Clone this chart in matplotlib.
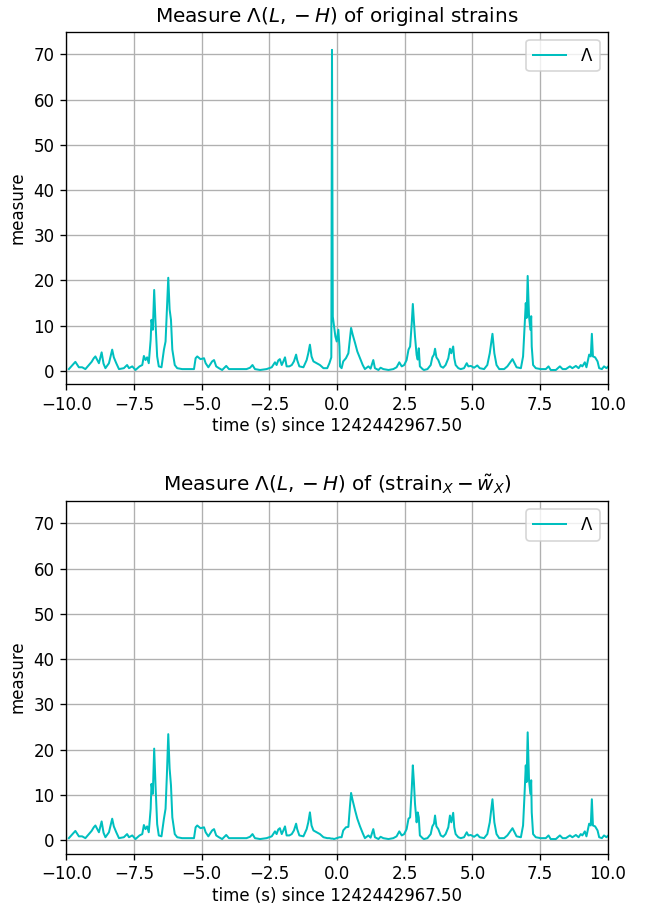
import numpy as np
import matplotlib
matplotlib.use("Agg")
import matplotlib.pyplot as plt

# time axis (s relative to the event GPS time)
t0 = "1242442967.50"
t = [-9.90, -9.66, -9.53, -9.41, -9.29, -9.16, -9.06, -8.98, -8.92, -8.85,
     -8.79, -8.69, -8.62, -8.55, -8.42, -8.30, -8.24, -8.15, -8.05, -7.87,
     -7.75, -7.68, -7.56, -7.44, -7.29, -7.19, -7.13, -7.07, -7.01, -6.95,
     -6.88, -6.85, -6.80, -6.75, -6.70, -6.64, -6.58, -6.48, -6.39, -6.33,
     -6.28, -6.23, -6.18, -6.13, -6.08, -5.99, -5.90, -5.72, -5.47, -5.28,
     -5.22, -5.16, -5.04, -4.91, -4.85, -4.75, -4.61, -4.54, -4.46, -4.36,
     -4.24, -4.09, -3.99, -3.74, -3.58, -3.34, -3.21, -3.12, -3.03, -2.84,
     -2.60, -2.41, -2.29, -2.23, -2.17, -2.11, -2.04, -1.98, -1.92, -1.86,
     -1.76, -1.67, -1.59, -1.51, -1.47, -1.39, -1.24, -1.12, -1.06, -1.00,
     -0.94, -0.87, -0.75, -0.63, -0.50, -0.36, -0.28, -0.21, -0.185, -0.155,
     -0.11, -0.06, -0.01, 0.05, 0.09, 0.11, 0.17, 0.23, 0.33, 0.42,
     0.48, 0.52, 0.58, 0.67, 0.75, 0.85, 0.95, 1.03, 1.16, 1.24,
     1.34, 1.40, 1.53, 1.61, 1.71, 1.90, 2.08, 2.20, 2.30, 2.39,
     2.48, 2.57, 2.64, 2.70, 2.76, 2.80, 2.84, 2.88, 2.94, 2.98,
     3.02, 3.06, 3.16, 3.21, 3.34, 3.46, 3.52, 3.58, 3.62, 3.67,
     3.74, 3.83, 3.92, 4.01, 4.11, 4.17, 4.22, 4.29, 4.33, 4.38,
     4.48, 4.57, 4.69, 4.79, 4.85, 4.94, 5.06, 5.18, 5.27, 5.43,
     5.55, 5.64, 5.74, 5.81, 5.89, 5.99, 6.17, 6.29, 6.42, 6.48,
     6.54, 6.63, 6.79, 6.87, 6.92, 6.97, 7.00, 7.04, 7.09, 7.14,
     7.17, 7.19, 7.24, 7.34, 7.52, 7.71, 7.81, 7.89, 8.08, 8.23,
     8.33, 8.45, 8.60, 8.69, 8.82, 8.92, 9.00, 9.06, 9.15, 9.21,
     9.31, 9.37, 9.41, 9.45, 9.53, 9.62, 9.68, 9.78, 9.86, 9.95,
     10.0]

# Lambda(L, -H) of the original strains
lam_orig = [0.4, 2.0, 0.8, 0.8, 0.4, 1.3, 2.0, 2.8, 3.2, 2.4,
            1.7, 4.1, 1.6, 0.6, 1.7, 4.7, 3.0, 1.7, 0.4, 0.6,
            1.3, 0.6, 1.0, 0.2, 1.0, 1.3, 3.3, 2.4, 3.0, 1.7,
            6.9, 11.3, 9.1, 17.9, 10.6, 3.2, 1.0, 0.8, 4.7, 6.5,
            13.6, 20.6, 13.6, 11.3, 4.7, 1.3, 0.6, 0.4, 0.4, 0.4,
            2.8, 3.2, 2.6, 2.8, 1.7, 0.8, 2.1, 2.4, 1.0, 0.6,
            0.2, 1.1, 0.4, 0.4, 0.4, 0.4, 0.7, 1.3, 0.4, 0.2,
            0.4, 0.8, 1.9, 1.3, 2.3, 2.6, 1.3, 2.1, 3.0, 1.0,
            1.0, 1.3, 2.1, 3.6, 2.4, 1.0, 0.8, 2.4, 3.9, 5.8,
            3.2, 2.1, 1.7, 1.3, 0.6, 0.6, 1.7, 3.0, 71.0, 12.0,
            9.9, 7.6, 6.5, 9.1, 5.4, 1.0, 0.6, 2.1, 2.8, 3.9,
            7.3, 9.5, 8.0, 6.1, 4.3, 2.8, 1.3, 0.4, 1.0, 0.5,
            2.4, 0.6, 0.2, 0.7, 0.4, 0.2, 0.4, 0.8, 1.9, 1.0,
            1.3, 2.4, 4.7, 5.4, 10.6, 14.8, 11.0, 7.6, 3.5, 2.5,
            5.0, 1.0, 0.4, 0.2, 0.4, 1.3, 3.0, 3.6, 4.9, 3.0,
            2.4, 1.0, 0.7, 1.3, 2.8, 4.9, 3.9, 5.4, 2.8, 1.3,
            0.6, 0.4, 0.6, 1.7, 1.0, 1.1, 0.7, 1.2, 0.6, 0.4,
            1.3, 3.9, 8.2, 3.9, 1.3, 0.4, 0.4, 1.0, 2.1, 2.6,
            1.9, 0.8, 0.6, 3.2, 9.1, 15.0, 11.7, 21.0, 12.1, 9.1,
            12.1, 5.4, 1.3, 0.6, 0.4, 0.4, 1.0, 0.2, 0.2, 1.0,
            0.4, 0.4, 1.0, 0.6, 1.1, 0.6, 1.3, 1.0, 1.9, 0.8,
            3.6, 3.2, 8.2, 3.2, 3.0, 2.1, 0.6, 0.4, 1.0, 0.6,
            0.9]

# Lambda(L, -H) after subtracting the reconstructed waveform
lam_resid = [0.4, 2.0, 0.8, 0.8, 0.4, 1.3, 2.0, 2.8, 3.2, 2.4,
             1.7, 4.1, 1.6, 0.6, 1.7, 4.7, 3.0, 1.7, 0.4, 0.6,
             1.3, 0.6, 1.0, 0.2, 1.0, 1.3, 3.3, 2.4, 3.0, 1.7,
             6.9, 12.4, 10.2, 20.2, 12.0, 3.5, 1.0, 0.8, 4.7, 6.9,
             14.5, 23.4, 15.8, 12.1, 5.0, 1.3, 0.6, 0.4, 0.4, 0.4,
             2.8, 3.2, 2.6, 2.8, 1.7, 0.8, 2.1, 2.4, 1.0, 0.6,
             0.2, 1.1, 0.4, 0.4, 0.4, 0.4, 0.7, 1.3, 0.4, 0.2,
             0.4, 0.8, 1.9, 1.3, 2.3, 2.6, 1.3, 2.1, 3.0, 1.0,
             1.0, 1.3, 2.1, 3.6, 2.4, 1.0, 0.8, 2.4, 3.9, 6.1,
             3.2, 2.1, 1.7, 1.3, 0.6, 0.4, 0.4, 0.3, 0.3, 0.3,
             0.2, 0.3, 0.4, 0.5, 0.6, 0.6, 0.6, 2.1, 2.8, 2.9,
             7.6, 10.4, 8.7, 6.5, 4.7, 3.0, 1.5, 0.4, 1.0, 0.5,
             2.4, 0.6, 0.2, 0.7, 0.4, 0.2, 0.4, 0.8, 1.9, 1.0,
             1.3, 2.4, 4.7, 5.0, 11.3, 16.5, 12.8, 8.0, 3.9, 6.1,
             5.0, 1.0, 0.4, 0.2, 0.4, 1.3, 3.0, 3.6, 5.4, 3.0,
             2.4, 1.0, 0.7, 1.3, 2.8, 5.4, 3.9, 6.0, 2.8, 1.3,
             0.6, 0.4, 0.6, 1.7, 1.0, 1.1, 0.7, 1.2, 0.6, 0.4,
             1.3, 3.9, 9.0, 3.9, 1.3, 0.4, 0.4, 1.0, 2.1, 2.6,
             1.9, 0.8, 0.6, 3.2, 9.5, 16.5, 12.8, 23.8, 13.2, 10.2,
             13.2, 6.1, 1.3, 0.6, 0.4, 0.4, 1.0, 0.2, 0.2, 1.0,
             0.4, 0.4, 1.0, 0.6, 1.1, 0.6, 1.3, 1.0, 1.9, 0.8,
             3.6, 3.2, 9.0, 3.2, 3.0, 2.1, 0.6, 0.4, 1.0, 0.6,
             0.9]

titles = [r"Measure $\Lambda(L, -H)$ of original strains",
          r"Measure $\Lambda(L, -H)$ of (strain$_X - \tilde{w}_X$)"]

fig, axes = plt.subplots(2, 1, figsize=(655 / 120, 908 / 120), dpi=120)
fig.subplots_adjust(left=0.101, right=0.928, top=0.965, bottom=0.06,
                    hspace=0.33)

for ax, vals, title in zip(axes, [lam_orig, lam_resid], titles):
    ax.plot(t, vals, color="c", linewidth=1.2, label=r"$\Lambda$")
    ax.set_xlim(-10, 10)
    ax.set_ylim(-3, 75)
    ax.set_title(title)
    ax.set_xlabel("time (s) since " + t0, labelpad=2)
    ax.set_ylabel("measure")
    ax.grid(True)
    ax.legend(loc="upper right")

plt.savefig("out.png", dpi=120)
